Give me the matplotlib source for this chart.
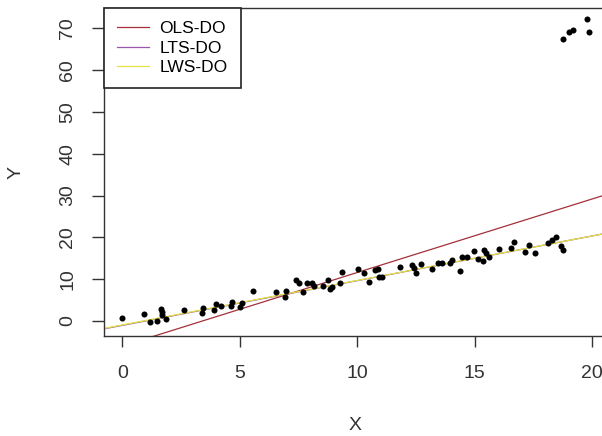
import numpy as np
import matplotlib.pyplot as plt

# points (main cluster + outliers)
x = [0.0, 0.91, 1.18, 1.46, 1.63, 1.68, 1.70, 1.86, 2.64, 3.38, 3.42, 3.91, 3.99, 4.20,
     4.61, 4.66, 5.01, 5.08, 5.55, 6.54, 6.95, 6.92, 7.38, 7.53, 7.68, 7.85, 8.06, 8.16,
     8.55, 8.77, 8.84, 8.91, 9.26, 9.34, 10.04, 10.30, 10.51, 10.74, 10.89, 10.94, 11.04,
     11.82, 12.31, 12.43, 12.50, 12.70, 13.19, 13.45, 13.62, 13.94, 14.02, 14.37, 14.47,
     14.66, 14.98, 15.12, 15.36, 15.40, 15.46, 15.60, 16.03, 16.54, 16.68, 17.14, 17.31,
     17.56, 18.13, 18.30, 18.44, 18.67, 18.77,
     18.77, 19.01, 19.17, 19.79, 19.85]
y = [0.8, 1.75, -0.17, 0.07, 2.94, 2.08, 1.5, 0.41, 2.70, 1.99, 3.18, 2.63, 4.0, 3.59,
     3.52, 4.55, 3.42, 4.38, 7.25, 6.94, 7.25, 5.74, 9.81, 9.16, 7.01, 9.16, 9.16, 8.37,
     8.37, 9.81, 7.58, 8.21, 9.02, 11.65, 12.37, 11.41, 9.26, 12.2, 12.37, 10.45, 10.6,
     12.99, 13.4, 12.61, 11.56, 13.64, 12.44, 13.8, 13.8, 13.8, 14.59, 12.03, 15.24,
     15.38, 16.67, 14.76, 14.43, 16.99, 16.2, 15.24, 17.15, 17.39, 18.9, 16.58, 18.11,
     16.2, 18.73, 19.38, 20.02, 17.94, 16.99,
     67.46, 69.21, 69.62, 72.18, 69.07]

# fitted lines: (intercept, slope)
fits = {
    "OLS-DO": (-6.0, 1.76),
    "LTS-DO": (-1.05, 1.07),
    "LWS-DO": (-0.95, 1.065),
}
colors = {"OLS-DO": "#a3303a", "LTS-DO": "#9a55ad", "LWS-DO": "#e3e342"}

plt.rcParams['font.family'] = ['Liberation Sans', 'DejaVu Sans']

fig = plt.figure(figsize=(6.02, 4.36), dpi=100)
ax = fig.add_axes([0.1728, 0.2294, 0.8422, 0.7523])

ax.scatter(x, y, s=19, color='black', zorder=3, linewidths=0)

xs = np.array([-0.78, 20.8])
for name, (a, b) in fits.items():
    ax.plot(xs, a + b * xs, color=colors[name], lw=0.9, label=name)

ax.set_xlim(-0.78, 20.8)
ax.set_ylim(-3.59, 74.9)
ax.set_xticks([0, 5, 10, 15, 20])
ax.set_yticks([0, 10, 20, 30, 40, 50, 60, 70])
ax.tick_params(axis='x', length=8, width=1, pad=13, labelsize=14, colors='#333333')
ax.tick_params(axis='y', length=9, width=1, pad=11, labelsize=14, colors='#333333')
for lab in ax.get_yticklabels():
    lab.set_rotation(90)
    lab.set_va('center')
for sp in ax.spines.values():
    sp.set_color('#333333')
    sp.set_linewidth(1)

fig.text(355 / 602, 1 - 425 / 436, 'X', ha='center', va='center', fontsize=14, color='#333333')
fig.text(16 / 602, 1 - 172 / 436, 'Y', ha='center', va='center', rotation=90,
         fontsize=14, color='#333333')

leg = ax.legend(loc='upper left', bbox_to_anchor=(0, 1), borderaxespad=0, fontsize=12.5,
                fancybox=False, framealpha=1, edgecolor='#222222', handlelength=1.85,
                handletextpad=0.6, labelspacing=0.25, borderpad=0.75)
leg.get_frame().set_linewidth(1.2)

fig.savefig('out.png', dpi=100)
